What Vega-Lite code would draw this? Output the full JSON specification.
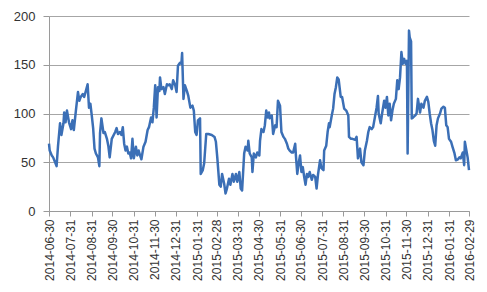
{
  "$schema": "https://vega.github.io/schema/vega-lite/v6.json",
  "width": 420,
  "height": 195,
  "autosize": {"type": "none"},
  "padding": {"left": 49, "top": 16, "right": 18, "bottom": 81},
  "background": "white",
  "config": {
    "view": {"stroke": null},
    "axis": {"labelFont": "Liberation Sans", "labelColor": "#333333", "domainColor": "#9a9a9a", "tickColor": "#9a9a9a", "gridColor": "#a6a6a6", "gridOpacity": 1}
  },
  "data": {"values": [
{"date":"2014-06-30","v":69},{"date":"2014-07-01","v":62},{"date":"2014-07-04","v":57},{"date":"2014-07-06","v":55},{"date":"2014-07-11","v":46},{"date":"2014-07-13","v":66},{"date":"2014-07-16","v":90},{"date":"2014-07-18","v":78},{"date":"2014-07-21","v":90},{"date":"2014-07-22","v":101},{"date":"2014-07-24","v":91},{"date":"2014-07-26","v":103},{"date":"2014-07-29","v":91},
{"date":"2014-08-01","v":84},{"date":"2014-08-03","v":93},{"date":"2014-08-05","v":83},{"date":"2014-08-08","v":103},{"date":"2014-08-11","v":122},{"date":"2014-08-13","v":113},{"date":"2014-08-15","v":117},{"date":"2014-08-18","v":120},{"date":"2014-08-20","v":117},{"date":"2014-08-22","v":122},{"date":"2014-08-25","v":130},{"date":"2014-08-27","v":106},{"date":"2014-08-29","v":110},{"date":"2014-08-31","v":98},
{"date":"2014-09-02","v":85},{"date":"2014-09-04","v":64},{"date":"2014-09-06","v":59},{"date":"2014-09-09","v":55},{"date":"2014-09-11","v":46},{"date":"2014-09-12","v":80},{"date":"2014-09-14","v":95},{"date":"2014-09-17","v":80},{"date":"2014-09-19","v":81},{"date":"2014-09-22","v":74},{"date":"2014-09-24","v":67},{"date":"2014-09-26","v":55},{"date":"2014-09-29","v":74},
{"date":"2014-10-04","v":81},{"date":"2014-10-06","v":85},{"date":"2014-10-08","v":79},{"date":"2014-10-11","v":81},{"date":"2014-10-13","v":78},{"date":"2014-10-15","v":86},{"date":"2014-10-17","v":69},{"date":"2014-10-19","v":62},{"date":"2014-10-21","v":66},{"date":"2014-10-23","v":59},{"date":"2014-10-25","v":60},{"date":"2014-10-27","v":54},{"date":"2014-10-29","v":74},{"date":"2014-10-31","v":54},
{"date":"2014-11-03","v":66},{"date":"2014-11-05","v":57},{"date":"2014-11-07","v":62},{"date":"2014-11-09","v":57},{"date":"2014-11-11","v":53},{"date":"2014-11-14","v":66},{"date":"2014-11-17","v":71},{"date":"2014-11-20","v":83},{"date":"2014-11-22","v":86},{"date":"2014-11-25","v":96},{"date":"2014-11-27","v":91},{"date":"2014-11-29","v":106},
{"date":"2014-12-01","v":129},{"date":"2014-12-03","v":96},{"date":"2014-12-05","v":127},{"date":"2014-12-07","v":123},{"date":"2014-12-08","v":137},{"date":"2014-12-10","v":125},{"date":"2014-12-13","v":127},{"date":"2014-12-15","v":120},{"date":"2014-12-18","v":130},{"date":"2014-12-20","v":129},{"date":"2014-12-22","v":130},{"date":"2014-12-25","v":125},{"date":"2014-12-27","v":134},{"date":"2014-12-30","v":129},
{"date":"2015-01-01","v":122},{"date":"2015-01-03","v":149},{"date":"2015-01-06","v":152},{"date":"2015-01-08","v":151},{"date":"2015-01-09","v":162},{"date":"2015-01-11","v":115},{"date":"2015-01-13","v":129},{"date":"2015-01-16","v":123},{"date":"2015-01-18","v":118},{"date":"2015-01-21","v":106},{"date":"2015-01-24","v":108},{"date":"2015-01-26","v":103},{"date":"2015-01-28","v":81},{"date":"2015-01-30","v":78},
{"date":"2015-02-01","v":93},{"date":"2015-02-04","v":95},{"date":"2015-02-05","v":38},{"date":"2015-02-08","v":42},{"date":"2015-02-10","v":49},{"date":"2015-02-13","v":79},{"date":"2015-02-16","v":79},{"date":"2015-02-21","v":78},{"date":"2015-02-25","v":76},{"date":"2015-02-27","v":71},
{"date":"2015-03-01","v":55},{"date":"2015-03-04","v":27},{"date":"2015-03-06","v":25},{"date":"2015-03-08","v":38},{"date":"2015-03-11","v":28},{"date":"2015-03-13","v":18},{"date":"2015-03-15","v":23},{"date":"2015-03-18","v":33},{"date":"2015-03-20","v":27},{"date":"2015-03-23","v":38},{"date":"2015-03-25","v":30},{"date":"2015-03-28","v":38},{"date":"2015-03-30","v":30},
{"date":"2015-04-02","v":40},{"date":"2015-04-04","v":23},{"date":"2015-04-06","v":21},{"date":"2015-04-09","v":59},{"date":"2015-04-11","v":66},{"date":"2015-04-14","v":62},{"date":"2015-04-15","v":72},{"date":"2015-04-17","v":59},{"date":"2015-04-20","v":55},{"date":"2015-04-21","v":40},{"date":"2015-04-23","v":59},{"date":"2015-04-26","v":55},{"date":"2015-04-28","v":60},
{"date":"2015-05-01","v":57},{"date":"2015-05-02","v":72},{"date":"2015-05-04","v":84},{"date":"2015-05-07","v":81},{"date":"2015-05-09","v":88},{"date":"2015-05-11","v":103},{"date":"2015-05-13","v":96},{"date":"2015-05-15","v":101},{"date":"2015-05-16","v":95},{"date":"2015-05-19","v":98},{"date":"2015-05-21","v":79},{"date":"2015-05-24","v":88},{"date":"2015-05-26","v":86},{"date":"2015-05-28","v":113},{"date":"2015-05-31","v":108},
{"date":"2015-06-02","v":81},{"date":"2015-06-05","v":76},{"date":"2015-06-07","v":74},{"date":"2015-06-10","v":69},{"date":"2015-06-12","v":64},{"date":"2015-06-14","v":62},{"date":"2015-06-17","v":60},{"date":"2015-06-19","v":60},{"date":"2015-06-22","v":69},{"date":"2015-06-23","v":57},{"date":"2015-06-25","v":38},{"date":"2015-06-27","v":49},{"date":"2015-06-29","v":57},
{"date":"2015-07-01","v":40},{"date":"2015-07-03","v":45},{"date":"2015-07-05","v":35},{"date":"2015-07-07","v":27},{"date":"2015-07-09","v":38},{"date":"2015-07-11","v":35},{"date":"2015-07-13","v":40},{"date":"2015-07-16","v":32},{"date":"2015-07-18","v":37},{"date":"2015-07-21","v":35},{"date":"2015-07-23","v":23},{"date":"2015-07-25","v":37},{"date":"2015-07-28","v":52},{"date":"2015-07-30","v":44},
{"date":"2015-08-02","v":42},{"date":"2015-08-03","v":62},{"date":"2015-08-06","v":67},{"date":"2015-08-08","v":81},{"date":"2015-08-10","v":90},{"date":"2015-08-11","v":86},{"date":"2015-08-14","v":98},{"date":"2015-08-16","v":105},{"date":"2015-08-18","v":120},{"date":"2015-08-20","v":127},{"date":"2015-08-22","v":137},{"date":"2015-08-24","v":135},{"date":"2015-08-27","v":117},{"date":"2015-08-29","v":117},
{"date":"2015-09-01","v":105},{"date":"2015-09-04","v":103},{"date":"2015-09-07","v":98},{"date":"2015-09-08","v":76},{"date":"2015-09-11","v":74},{"date":"2015-09-13","v":74},{"date":"2015-09-17","v":73},{"date":"2015-09-19","v":76},{"date":"2015-09-21","v":54},{"date":"2015-09-24","v":64},{"date":"2015-09-26","v":50},{"date":"2015-09-29","v":47},
{"date":"2015-10-01","v":62},{"date":"2015-10-04","v":72},{"date":"2015-10-06","v":81},{"date":"2015-10-08","v":86},{"date":"2015-10-11","v":84},{"date":"2015-10-13","v":86},{"date":"2015-10-16","v":98},{"date":"2015-10-18","v":106},{"date":"2015-10-20","v":118},{"date":"2015-10-21","v":100},{"date":"2015-10-24","v":90},{"date":"2015-10-26","v":100},{"date":"2015-10-29","v":113},{"date":"2015-10-31","v":106},
{"date":"2015-11-02","v":117},{"date":"2015-11-04","v":98},{"date":"2015-11-06","v":110},{"date":"2015-11-08","v":93},{"date":"2015-11-10","v":103},{"date":"2015-11-12","v":110},{"date":"2015-11-15","v":115},{"date":"2015-11-17","v":134},{"date":"2015-11-19","v":125},{"date":"2015-11-21","v":137},{"date":"2015-11-23","v":163},{"date":"2015-11-25","v":151},{"date":"2015-11-27","v":156},{"date":"2015-11-29","v":151},
{"date":"2015-12-01","v":154},{"date":"2015-12-02","v":59},{"date":"2015-12-04","v":185},{"date":"2015-12-05","v":178},{"date":"2015-12-07","v":174},{"date":"2015-12-08","v":95},{"date":"2015-12-10","v":96},{"date":"2015-12-13","v":98},{"date":"2015-12-15","v":100},{"date":"2015-12-17","v":115},{"date":"2015-12-20","v":101},{"date":"2015-12-22","v":110},{"date":"2015-12-25","v":106},{"date":"2015-12-27","v":113},{"date":"2015-12-30","v":117},
{"date":"2016-01-01","v":112},{"date":"2016-01-03","v":100},{"date":"2016-01-05","v":90},{"date":"2016-01-07","v":83},{"date":"2016-01-09","v":72},{"date":"2016-01-11","v":67},{"date":"2016-01-13","v":88},{"date":"2016-01-15","v":95},{"date":"2016-01-18","v":100},{"date":"2016-01-20","v":105},{"date":"2016-01-23","v":107},{"date":"2016-01-25","v":106},{"date":"2016-01-27","v":88},{"date":"2016-01-29","v":86},{"date":"2016-01-31","v":74},
{"date":"2016-02-03","v":71},{"date":"2016-02-05","v":66},{"date":"2016-02-08","v":59},{"date":"2016-02-10","v":52},{"date":"2016-02-13","v":53},{"date":"2016-02-15","v":55},{"date":"2016-02-17","v":54},{"date":"2016-02-20","v":60},{"date":"2016-02-22","v":47},{"date":"2016-02-23","v":71},{"date":"2016-02-26","v":59},{"date":"2016-02-27","v":55},{"date":"2016-02-29","v":42}
  ]},
  "mark": {"type": "line", "color": "#3b6fb6", "strokeWidth": 2.5, "strokeJoin": "round"},
  "encoding": {
    "x": {
      "field": "date", "type": "temporal",
      "scale": {"type": "utc", "nice": false, "domain": [{"year": 2014, "month": 6, "date": 30, "utc": true}, {"year": 2016, "month": 2, "date": 29, "utc": true}]},
      "axis": {
        "title": null, "grid": false, "format": "%Y-%m-%d", "labelAngle": -90, "labelFontSize": 12,
        "labelPadding": 3, "tickSize": 5, "labelOverlap": false, "labelFlush": false, "labelBound": false,
        "values": [
          {"year": 2014, "month": 6, "date": 30, "utc": true},
          {"year": 2014, "month": 7, "date": 31, "utc": true},
          {"year": 2014, "month": 8, "date": 31, "utc": true},
          {"year": 2014, "month": 9, "date": 30, "utc": true},
          {"year": 2014, "month": 10, "date": 31, "utc": true},
          {"year": 2014, "month": 11, "date": 30, "utc": true},
          {"year": 2014, "month": 12, "date": 31, "utc": true},
          {"year": 2015, "month": 1, "date": 31, "utc": true},
          {"year": 2015, "month": 2, "date": 28, "utc": true},
          {"year": 2015, "month": 3, "date": 31, "utc": true},
          {"year": 2015, "month": 4, "date": 30, "utc": true},
          {"year": 2015, "month": 5, "date": 31, "utc": true},
          {"year": 2015, "month": 6, "date": 30, "utc": true},
          {"year": 2015, "month": 7, "date": 31, "utc": true},
          {"year": 2015, "month": 8, "date": 31, "utc": true},
          {"year": 2015, "month": 9, "date": 30, "utc": true},
          {"year": 2015, "month": 10, "date": 31, "utc": true},
          {"year": 2015, "month": 11, "date": 30, "utc": true},
          {"year": 2015, "month": 12, "date": 31, "utc": true},
          {"year": 2016, "month": 1, "date": 31, "utc": true},
          {"year": 2016, "month": 2, "date": 29, "utc": true}
        ]
      }
    },
    "y": {
      "field": "v", "type": "quantitative",
      "scale": {"domain": [0, 200], "nice": false},
      "axis": {"title": null, "values": [0, 50, 100, 150, 200], "labelFontSize": 13, "tickSize": 6, "labelPadding": 8, "grid": true}
    }
  }
}
